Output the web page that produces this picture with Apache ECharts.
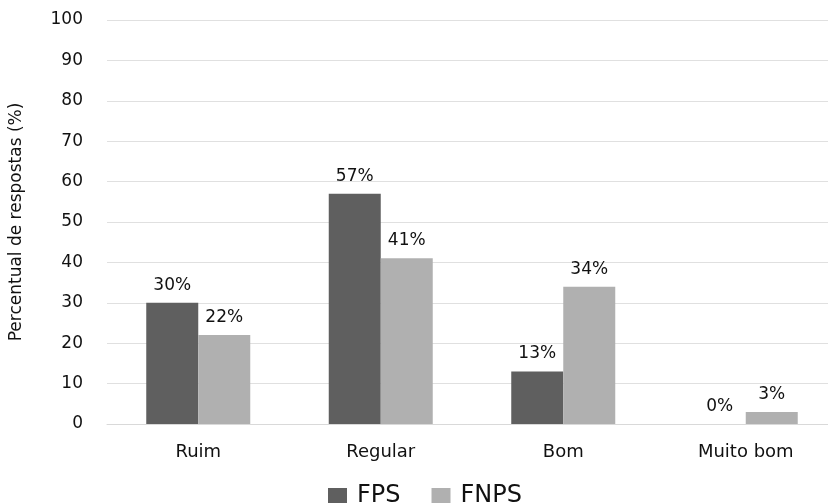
<!DOCTYPE html>
<html>
<head>
<meta charset="utf-8">
<script src="https://cdn.jsdelivr.net/npm/echarts@6/dist/echarts.min.js"></script>
<style>
  html, body { margin: 0; padding: 0; background: #fff; }
  #chart { width: 828px; height: 503px; }
</style>
</head>
<body>
<div id="chart"></div>
<script>
// Response ratings per category, in percent
const categories = ['Ruim', 'Regular', 'Bom', 'Muito bom'];
const fpsValues = [30, 57, 13, 0];
const fnpsValues = [22, 41, 34, 3];
const seriesNames = ['FPS', 'FNPS'];
const yTitle = 'Percentual de respostas (%)';

const font = 'DejaVu Sans';
const ink = '#111';
const valueLabel = {
  show: true,
  position: 'top',
  distance: 9,
  fontFamily: font,
  fontSize: 17,
  color: ink,
  formatter: p => p.value + '%'
};

const chart = echarts.init(document.getElementById('chart'));
chart.setOption({
  animation: false,
  backgroundColor: '#fff',
  grid: {
    left: 107, top: 20, width: 730, height: 404,
    containLabel: false,
    outerBoundsMode: 'none'
  },
  legend: {
    left: 323,
    top: 479,
    itemWidth: 19,
    itemHeight: 16,
    itemGap: 31,
    icon: 'rect',
    textStyle: { fontFamily: font, fontSize: 24, color: ink, padding: [0, 0, 0, 5] },
    data: seriesNames
  },
  xAxis: {
    type: 'category',
    data: categories,
    axisLine: { lineStyle: { color: '#d9d9d9', width: 1 } },
    axisTick: { show: false },
    axisLabel: { fontFamily: font, fontSize: 18, color: ink, margin: 19 }
  },
  yAxis: {
    type: 'value',
    min: 0,
    max: 100,
    interval: 10,
    name: yTitle,
    nameLocation: 'middle',
    nameGap: 82,
    nameTextStyle: { fontFamily: font, fontSize: 17, color: ink },
    axisLine: { show: false },
    axisTick: { show: false },
    axisLabel: { fontFamily: font, fontSize: 17, color: ink, margin: 24 },
    splitLine: { lineStyle: { color: '#e0e0e0', width: 1 } }
  },
  series: [
    {
      name: seriesNames[0],
      type: 'bar',
      data: fpsValues,
      barWidth: 52,
      barGap: '0%',
      itemStyle: { color: '#5f5f5f' },
      label: valueLabel
    },
    {
      name: seriesNames[1],
      type: 'bar',
      data: fnpsValues,
      barWidth: 52,
      barGap: '0%',
      itemStyle: { color: '#b0b0b0' },
      label: valueLabel
    }
  ]
});
</script>
</body>
</html>
